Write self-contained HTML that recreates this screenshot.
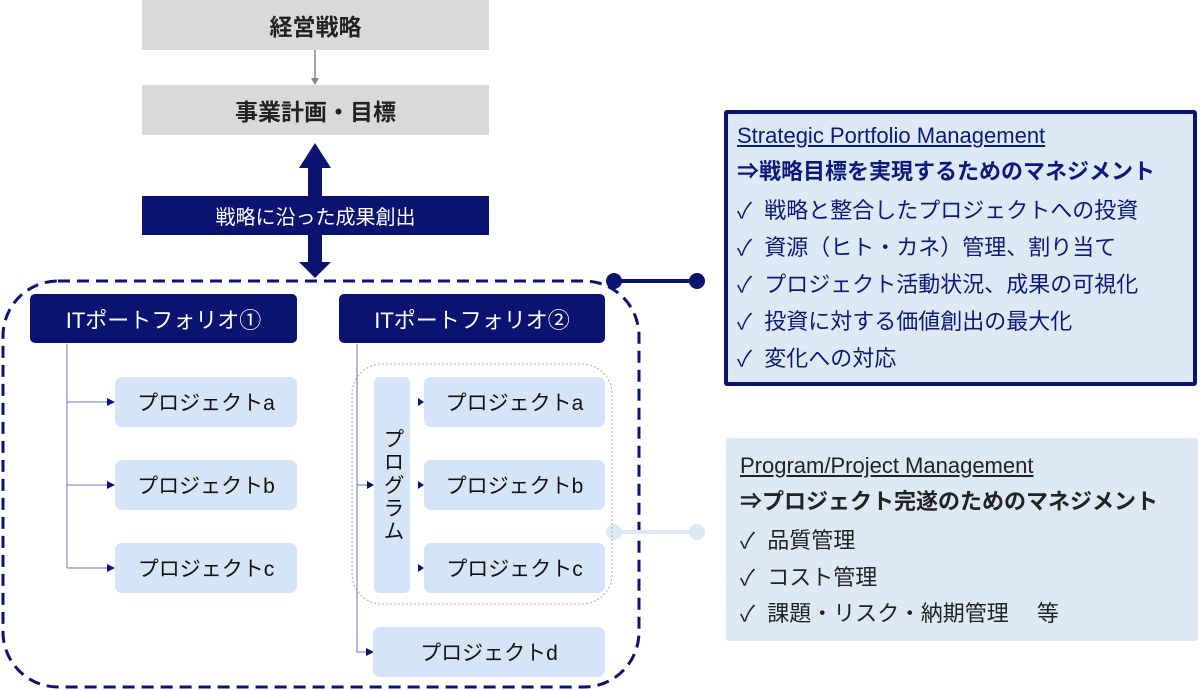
<!DOCTYPE html>
<html><head><meta charset="utf-8"><style>
*{margin:0;padding:0;box-sizing:border-box}
body{width:1200px;height:690px;background:#fff;position:relative;overflow:hidden;font-family:"Liberation Sans","Noto Sans CJK JP",sans-serif}
.a{position:absolute;display:flex;align-items:center;justify-content:center}
.g{background:#d9d9d9;color:#222;font-weight:bold;font-size:23px}
.n{background:#0a1470;color:#fff;font-size:22px;border-radius:5px}
.p{background:#d6e4f8;color:#111;font-size:21px;border-radius:7px}
.t{position:absolute;white-space:nowrap;font-size:22px;line-height:1}
</style></head><body>
<svg width="1200" height="690" style="position:absolute;left:0;top:0">
<line x1="315" y1="50" x2="315" y2="80" stroke="#888" stroke-width="1.5"/>
<polygon points="311,78 319,78 315,85" fill="#888"/>
<rect x="308" y="166" width="14" height="30" fill="#0a1470"/>
<polygon points="299,168 331,168 315,143" fill="#0a1470"/>
<rect x="308" y="234" width="14" height="30" fill="#0a1470"/>
<polygon points="299,262 331,262 315,278" fill="#0a1470"/>
<rect x="3" y="281" width="636" height="406" rx="55" fill="none" stroke="#0a1470" stroke-width="3" stroke-dasharray="12,7"/>
<line x1="612" y1="281" x2="697" y2="281" stroke="#0a1470" stroke-width="4"/>
<circle cx="614" cy="281" r="8" fill="#0a1470"/><circle cx="697" cy="281" r="8" fill="#0a1470"/>
<line x1="612" y1="532" x2="697" y2="532" stroke="#dde9f5" stroke-width="4"/>
<circle cx="614" cy="532" r="8" fill="#dde9f5"/><circle cx="697" cy="532" r="8" fill="#dde9f5"/>
<rect x="352" y="364" width="260" height="240" rx="30" fill="none" stroke="#aaa" stroke-width="1" stroke-dasharray="2,2"/>
<g stroke="#6a74c0" stroke-width="1" fill="none">
<path d="M67 344V568M67 402H108M67 485H108M67 568H108"/>
<path d="M357 344V652H368M357 485H368"/>
</g>
<g fill="#0a1470">
<polygon points="107,398 115,402 107,406"/><polygon points="107,481 115,485 107,489"/><polygon points="107,564 115,568 107,572"/>
<polygon points="366,648 374,652 366,656"/><polygon points="367,481 374,485 367,489"/>
<polygon points="418,398 424,402 418,406"/><polygon points="418,481 424,485 418,489"/><polygon points="418,564 424,568 418,572"/>
</g>
</svg>
<div class="a g" style="left:142px;top:0;width:347px;height:50px">経営戦略</div>
<div class="a g" style="left:142px;top:85px;width:347px;height:50px">事業計画・目標</div>
<div class="a n" style="left:142px;top:196px;width:347px;height:39px;border-radius:0;font-size:20px">戦略に沿った成果創出</div>
<div class="a n" style="left:30px;top:294px;width:267px;height:49px">ITポートフォリオ①</div>
<div class="a n" style="left:339px;top:294px;width:266px;height:49px">ITポートフォリオ②</div>
<div class="a p" style="left:115px;top:377px;width:182px;height:50px">プロジェクトa</div>
<div class="a p" style="left:115px;top:460px;width:182px;height:50px">プロジェクトb</div>
<div class="a p" style="left:115px;top:543px;width:182px;height:50px">プロジェクトc</div>
<div class="a p" style="left:374px;top:377px;width:36px;height:216px;border-radius:5px;writing-mode:vertical-rl;letter-spacing:2px">プログラム</div>
<div class="a p" style="left:424px;top:377px;width:181px;height:50px">プロジェクトa</div>
<div class="a p" style="left:424px;top:460px;width:181px;height:50px">プロジェクトb</div>
<div class="a p" style="left:424px;top:543px;width:181px;height:50px">プロジェクトc</div>
<div class="a p" style="left:373px;top:627px;width:232px;height:50px">プロジェクトd</div>
<div style="position:absolute;left:724px;top:110px;width:473px;height:276px;background:#dde9f5;border:4px solid #0a1470;border-radius:3px"></div>
<div style="color:#0b1a7a">
<div class="t" style="left:737px;top:125px;text-decoration:underline">Strategic Portfolio Management</div>
<div class="t" style="left:737px;top:161px;font-weight:bold">⇒戦略目標を実現するためのマネジメント</div>
<div class="t" style="left:737px;top:200px">✓&nbsp; 戦略と整合したプロジェクトへの投資</div>
<div class="t" style="left:737px;top:237px">✓&nbsp; 資源（ヒト・カネ）管理、割り当て</div>
<div class="t" style="left:737px;top:274px">✓&nbsp; プロジェクト活動状況、成果の可視化</div>
<div class="t" style="left:737px;top:311px">✓&nbsp; 投資に対する価値創出の最大化</div>
<div class="t" style="left:737px;top:348px">✓&nbsp; 変化への対応</div>
</div>
<div style="position:absolute;left:726px;top:438px;width:472px;height:203px;background:#dde9f5;border-radius:3px"></div>
<div style="color:#222">
<div class="t" style="left:740px;top:455px;text-decoration:underline">Program/Project Management</div>
<div class="t" style="left:740px;top:491px;font-weight:bold">⇒プロジェクト完遂のためのマネジメント</div>
<div class="t" style="left:740px;top:530px">✓&nbsp; 品質管理</div>
<div class="t" style="left:740px;top:567px">✓&nbsp; コスト管理</div>
<div class="t" style="left:740px;top:603px">✓&nbsp; 課題・リスク・納期管理　 等</div>
</div>
</body></html>
